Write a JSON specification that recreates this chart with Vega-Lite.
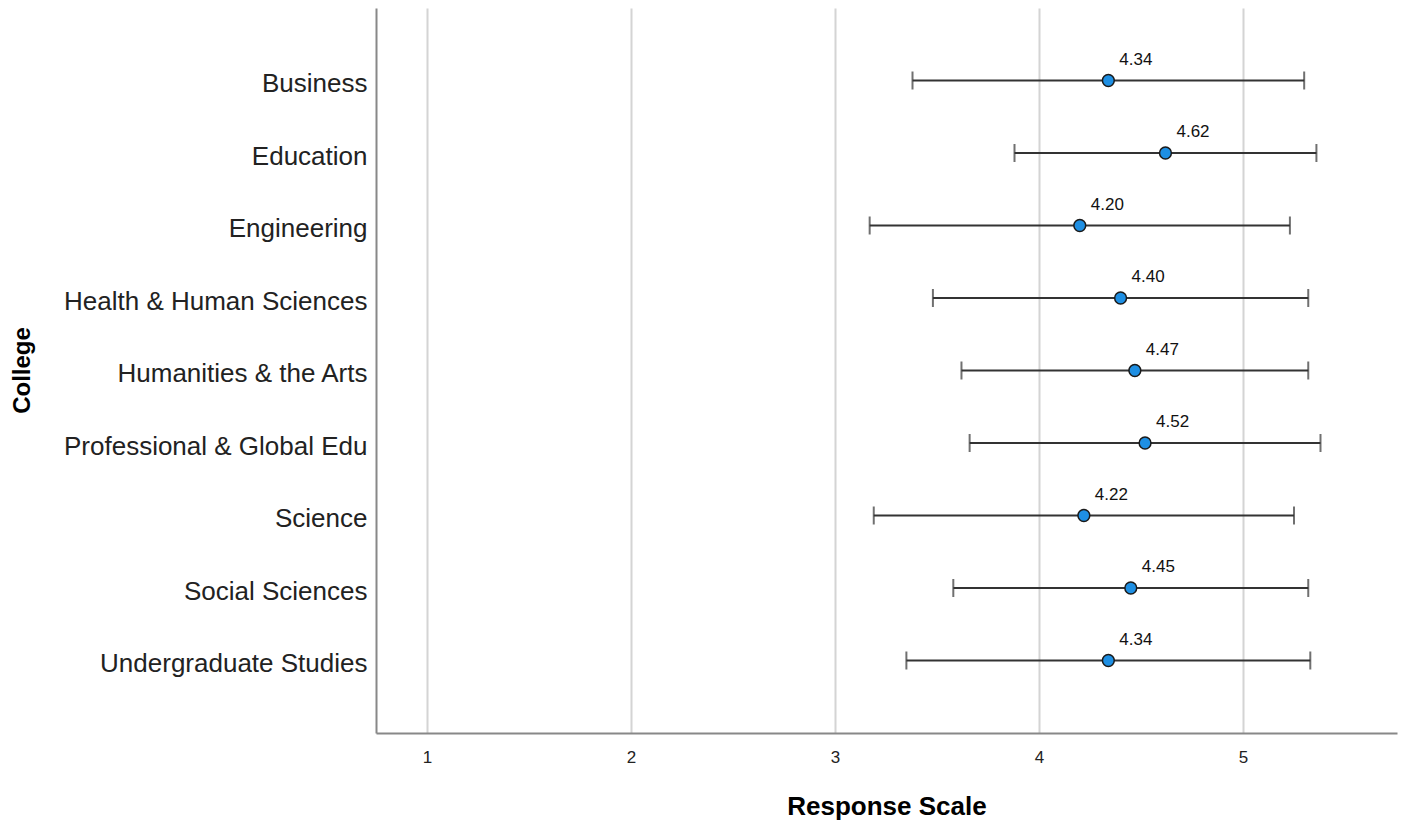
{
  "$schema": "https://vega.github.io/schema/vega-lite/v6.json",
  "width": 1021,
  "height": 725,
  "autosize": {"type": "none"},
  "padding": {"left": 376, "top": 8, "right": 20, "bottom": 87},
  "background": "white",
  "config": {
    "view": {"stroke": null},
    "font": "Liberation Sans"
  },
  "data": {
    "values": [
      {"College": "Business", "Mean": 4.34, "Lower": 3.38, "Upper": 5.30, "Label": "4.34"},
      {"College": "Education", "Mean": 4.62, "Lower": 3.88, "Upper": 5.36, "Label": "4.62"},
      {"College": "Engineering", "Mean": 4.20, "Lower": 3.17, "Upper": 5.23, "Label": "4.20"},
      {"College": "Health & Human Sciences", "Mean": 4.40, "Lower": 3.48, "Upper": 5.32, "Label": "4.40"},
      {"College": "Humanities & the Arts", "Mean": 4.47, "Lower": 3.62, "Upper": 5.32, "Label": "4.47"},
      {"College": "Professional & Global Edu", "Mean": 4.52, "Lower": 3.66, "Upper": 5.38, "Label": "4.52"},
      {"College": "Science", "Mean": 4.22, "Lower": 3.19, "Upper": 5.25, "Label": "4.22"},
      {"College": "Social Sciences", "Mean": 4.45, "Lower": 3.58, "Upper": 5.32, "Label": "4.45"},
      {"College": "Undergraduate Studies", "Mean": 4.34, "Lower": 3.35, "Upper": 5.33, "Label": "4.34"}
    ]
  },
  "encoding": {
    "y": {
      "field": "College",
      "type": "nominal",
      "sort": null,
      "scale": {"type": "point", "padding": 1},
      "axis": {
        "title": "College",
        "titleFont": "Liberation Sans",
        "titleFontSize": 24,
        "titleFontWeight": "bold",
        "titleColor": "black",
        "titleX": -354,
        "titleY": 362,
        "titleAngle": -90,
        "titleAlign": "center",
        "titleBaseline": "middle",
        "labelFont": "Liberation Sans",
        "labelFontSize": 26,
        "labelColor": "#222222",
        "labelPadding": 9,
        "labelOffset": 3,
        "labelLimit": 400,
        "ticks": false,
        "grid": false,
        "domainColor": "#888888",
        "domainWidth": 2
      }
    }
  },
  "layer": [
    {
      "mark": {"type": "rule", "color": "#333333", "strokeWidth": 2},
      "encoding": {
        "x": {
          "field": "Lower",
          "type": "quantitative",
          "scale": {"domain": [0.75, 5.755], "nice": false, "zero": false},
          "axis": {
            "title": "Response Scale",
            "values": [1, 2, 3, 4, 5],
            "format": "d",
            "titleFont": "Liberation Sans",
            "titleFontSize": 26,
            "titleFontWeight": "bold",
            "titleColor": "black",
            "titlePadding": 28,
            "labelFont": "Liberation Sans",
            "labelFontSize": 17,
            "labelColor": "#222222",
            "labelPadding": 16,
            "ticks": false,
            "grid": true,
            "gridColor": "#d4d4d4",
            "gridWidth": 2,
            "domainColor": "#888888",
            "domainWidth": 2
          }
        },
        "x2": {"field": "Upper"}
      }
    },
    {
      "mark": {"type": "tick", "orient": "vertical", "color": "#333333", "size": 18, "thickness": 2},
      "encoding": {"x": {"field": "Lower", "type": "quantitative"}}
    },
    {
      "mark": {"type": "tick", "orient": "vertical", "color": "#333333", "size": 18, "thickness": 2},
      "encoding": {"x": {"field": "Upper", "type": "quantitative"}}
    },
    {
      "mark": {"type": "point", "filled": true, "shape": "circle", "size": 140, "fill": "#1e8fe3", "stroke": "#1a1a1a", "strokeWidth": 1.5, "opacity": 1},
      "encoding": {"x": {"field": "Mean", "type": "quantitative"}}
    },
    {
      "mark": {"type": "text", "align": "left", "baseline": "alphabetic", "dx": 11, "dy": -16, "fontSize": 17, "font": "Liberation Sans", "color": "#111111"},
      "encoding": {
        "x": {"field": "Mean", "type": "quantitative"},
        "text": {"field": "Label"}
      }
    }
  ]
}
